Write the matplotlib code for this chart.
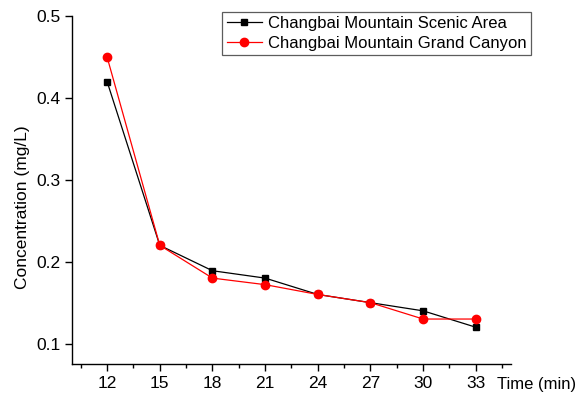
import matplotlib
matplotlib.use('Agg')
import matplotlib.pyplot as plt
from matplotlib.ticker import MultipleLocator

plt.rcParams['font.family'] = ['Liberation Sans', 'DejaVu Sans']

time = [12, 15, 18, 21, 24, 27, 30, 33]
scenic_area = [0.42, 0.22, 0.189, 0.18, 0.16, 0.15, 0.14, 0.12]
grand_canyon = [0.45, 0.22, 0.18, 0.172, 0.16, 0.15, 0.13, 0.13]
labels = ['Changbai Mountain Scenic Area', 'Changbai Mountain Grand Canyon']

fig = plt.figure(figsize=(5.76, 3.94), dpi=100)
ax = fig.add_axes([0.125, 0.076, 0.762, 0.883])

ax.plot(time, scenic_area, color='black', marker='s', markersize=5, linewidth=0.9, label=labels[0])
ax.plot(time, grand_canyon, color='red', marker='o', markersize=6, linewidth=0.9, label=labels[1])

ax.set_xlim(10, 35)
ax.set_ylim(0.075, 0.5)
ax.xaxis.set_minor_locator(MultipleLocator(1.5))
ax.set_xticks(time)
ax.set_yticks([0.1, 0.2, 0.3, 0.4, 0.5])
ax.set_yticklabels(['0.1', '0.2', '0.3', '0.4', '0.5'])

for side in ['top', 'right']:
    ax.spines[side].set_visible(False)
for side in ['left', 'bottom']:
    ax.spines[side].set_linewidth(1.0)

ax.tick_params(axis='both', which='major', direction='out', length=5, width=1, labelsize=12.5, pad=3.5)
ax.tick_params(axis='x', which='minor', direction='out', length=3, width=1)

ax.set_ylabel('Concentration (mg/L)', fontsize=12.5)
ax.yaxis.set_label_coords(-0.095, 0.45)
fig.text(0.863, 0.025, 'Time (min)', fontsize=12, ha='left', va='center')

leg = ax.legend(loc='upper right', bbox_to_anchor=(0.922, 0.9695), bbox_transform=fig.transFigure,
                fontsize=12, frameon=True, fancybox=False, borderpad=0.25, labelspacing=0.26,
                handlelength=2.1, handletextpad=0.4, borderaxespad=0)
leg.get_frame().set_edgecolor('#333333')
leg.get_frame().set_linewidth(0.9)

fig.savefig('out.png', dpi=100)
